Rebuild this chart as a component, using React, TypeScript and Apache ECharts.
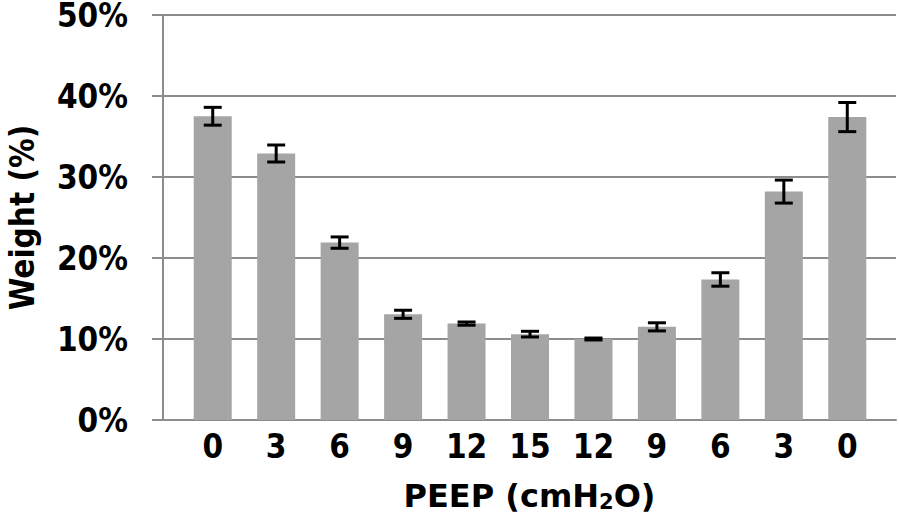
import React, { useEffect, useRef } from "react";
import * as echarts from "echarts";

const categories = ["0", "3", "6", "9", "12", "15", "12", "9", "6", "3", "0"];
const means = [37.5, 32.9, 21.9, 13.05, 11.9, 10.6, 10.0, 11.5, 17.35, 28.2, 37.4];
const errors = [1.1, 1.05, 0.7, 0.5, 0.2, 0.35, 0.12, 0.5, 0.83, 1.42, 1.8];
const yTicks = [0, 10, 20, 30, 40, 50];

const FONT = "'DejaVu Sans Condensed', 'DejaVu Sans', sans-serif";
const TITLE_FONT = "'DejaVu Sans', sans-serif";
const GRID_COLOR = "#8c8c8c";

export default function App() {
  const ref = useRef<HTMLDivElement>(null);
  useEffect(() => {
    if (!ref.current) return;
    const chart = echarts.init(ref.current, undefined, { renderer: "svg" });
    const errData = means.map((m, i) => [i, m - errors[i], m + errors[i]]);
    chart.setOption({
      animation: false,
      backgroundColor: "#ffffff",
      grid: [
        { left: 163, right: 3, top: 15, bottom: 102, containLabel: false, outerBoundsMode: "none" },
        { left: 181, right: 20, top: 15, bottom: 102, containLabel: false, outerBoundsMode: "none" },
      ],
      xAxis: [
        {
          gridIndex: 0,
          type: "category",
          data: categories,
          axisLine: { show: true, lineStyle: { color: GRID_COLOR, width: 2 } },
          axisTick: { show: false },
          axisLabel: { show: false },
          splitLine: { show: false },
          name: "PEEP (cmH{sub|2}O)",
          nameLocation: "middle",
          nameGap: 59,
          nameTextStyle: {
            fontFamily: TITLE_FONT,
            fontWeight: "bold",
            fontSize: 32,
            color: "#000",
            rich: {
              sub: {
                fontFamily: TITLE_FONT,
                fontWeight: "bold",
                fontSize: 21,
                color: "#000",
                verticalAlign: "bottom",
                padding: [12, 0, 0, 0],
              },
            },
          },
        },
        {
          gridIndex: 1,
          type: "category",
          data: categories,
          axisLine: { show: false },
          axisTick: { show: false },
          axisLabel: {
            show: true,
            margin: 10,
            fontFamily: FONT,
            fontWeight: "bold",
            fontSize: 33,
            color: "#000",
          },
        },
      ],
      yAxis: [
        {
          gridIndex: 0,
          type: "value",
          min: yTicks[0],
          max: yTicks[yTicks.length - 1],
          interval: 10,
          axisLine: { show: true, lineStyle: { color: GRID_COLOR, width: 2 } },
          axisTick: { show: true, length: 11, lineStyle: { color: GRID_COLOR, width: 2 } },
          splitLine: { show: true, lineStyle: { color: GRID_COLOR, width: 2 } },
          axisLabel: {
            formatter: "{value}%",
            margin: 35,
            fontFamily: FONT,
            fontWeight: "bold",
            fontSize: 33,
            lineHeight: 28,
            color: "#000",
          },
          name: "Weight (%)",
          nameLocation: "middle",
          nameGap: 124,
          nameRotate: 90,
          nameTextStyle: {
            fontFamily: FONT,
            fontWeight: "bold",
            fontSize: 33,
            color: "#000",
          },
        },
        {
          gridIndex: 1,
          type: "value",
          min: yTicks[0],
          max: yTicks[yTicks.length - 1],
          interval: 10,
          show: false,
        },
      ],
      series: [
        {
          type: "bar",
          xAxisIndex: 1,
          yAxisIndex: 1,
          data: means,
          barWidth: 38,
          itemStyle: { color: "#a5a5a5" },
        },
        {
          type: "custom",
          xAxisIndex: 1,
          yAxisIndex: 1,
          data: errData,
          z: 10,
          renderItem: (params: any, api: any) => {
            const x = api.value(0);
            const lo = api.coord([x, api.value(1)]);
            const hi = api.coord([x, api.value(2)]);
            const hw = 9;
            const style = { stroke: "#000", lineWidth: 3 };
            return {
              type: "group",
              children: [
                { type: "line", shape: { x1: lo[0], y1: lo[1], x2: hi[0], y2: hi[1] }, style },
                { type: "line", shape: { x1: hi[0] - hw, y1: hi[1], x2: hi[0] + hw, y2: hi[1] }, style },
                { type: "line", shape: { x1: lo[0] - hw, y1: lo[1], x2: lo[0] + hw, y2: lo[1] }, style },
              ],
            };
          },
        },
      ],
    });
    return () => chart.dispose();
  }, []);
  return (
    <div
      ref={ref}
      style={{ position: "fixed", left: 0, top: 0, width: 899, height: 522 }}
    />
  );
}
